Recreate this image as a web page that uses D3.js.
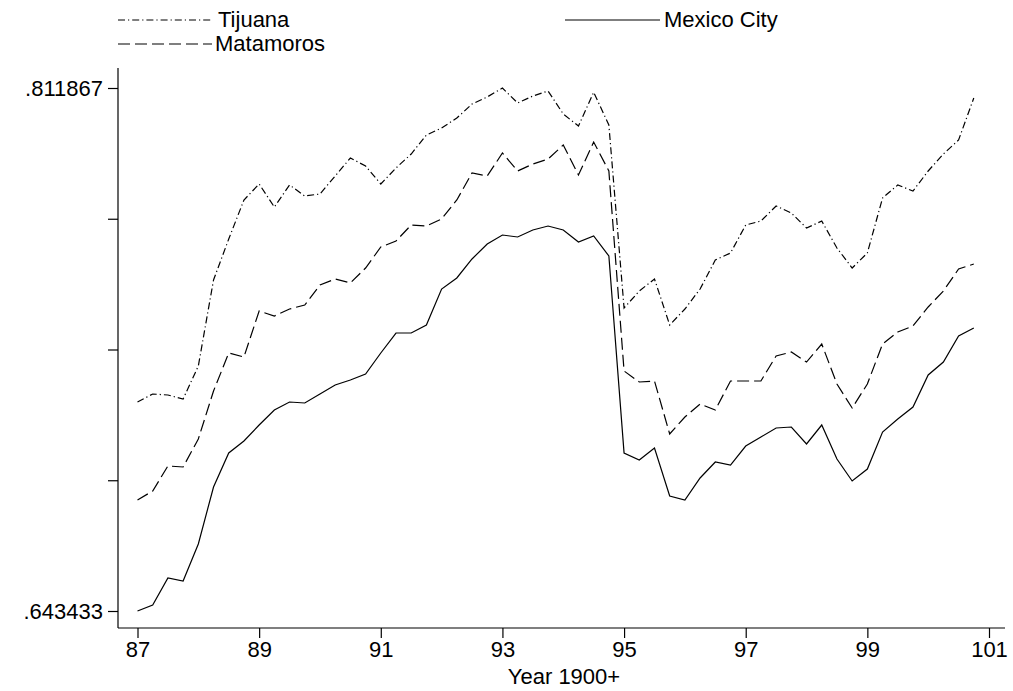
<!DOCTYPE html>
<html>
<head>
<meta charset="utf-8">
<script src="https://cdn.jsdelivr.net/npm/d3@7"></script>
<style>
  html, body { margin: 0; padding: 0; background: #fff; }
  svg { display: block; font-family: "Liberation Sans", Arial, sans-serif; }
</style>
</head>
<body>
<svg id="chart" width="1013" height="691"></svg>
<script>
// ---- data (quarterly, year 1900+) ----
const quarters = [
  87.00, 87.25, 87.50, 87.75, 88.00, 88.25, 88.50, 88.75,
  89.00, 89.25, 89.50, 89.75, 90.00, 90.25, 90.50, 90.75,
  91.00, 91.25, 91.50, 91.75, 92.00, 92.25, 92.50, 92.75,
  93.00, 93.25, 93.50, 93.75, 94.00, 94.25, 94.50, 94.75,
  95.00, 95.25, 95.50, 95.75, 96.00, 96.25, 96.50, 96.75,
  97.00, 97.25, 97.50, 97.75, 98.00, 98.25, 98.50, 98.75,
  99.00, 99.25, 99.50, 99.75, 100.00, 100.25, 100.50, 100.75
];

const tijuana = [
  0.71074, 0.71332, 0.71300, 0.71171, 0.72234, 0.75003, 0.76324, 0.77580,
  0.78095, 0.77354, 0.78063, 0.77708, 0.77773, 0.78353, 0.78932, 0.78675,
  0.78095, 0.78610, 0.79061, 0.79673, 0.79898, 0.80220, 0.80671, 0.80897,
  0.811867, 0.80703, 0.80929, 0.81090, 0.80349, 0.79963, 0.81050, 0.79995,
  0.74101, 0.74649, 0.75035, 0.73554, 0.74069, 0.74713, 0.75647, 0.75873,
  0.76774, 0.76903, 0.77386, 0.77161, 0.76678, 0.76903, 0.76034, 0.75390,
  0.75873, 0.77644, 0.78063, 0.77869, 0.78514, 0.79061, 0.79512, 0.80865
];

const matamoros = [
  0.67918, 0.68208, 0.69013, 0.68981, 0.69883, 0.71428, 0.72652, 0.72523,
  0.74005, 0.73844, 0.74069, 0.74198, 0.74842, 0.75035, 0.74907, 0.75390,
  0.76066, 0.76259, 0.76774, 0.76742, 0.76968, 0.77580, 0.78449, 0.78353,
  0.79093, 0.78514, 0.78739, 0.78900, 0.79351, 0.78385, 0.79447, 0.78514,
  0.72073, 0.71718, 0.71751, 0.70044, 0.70591, 0.71010, 0.70817, 0.71751,
  0.71751, 0.71751, 0.72556, 0.72684, 0.72362, 0.72942, 0.71654, 0.70881,
  0.71654, 0.72942, 0.73329, 0.73522, 0.74134, 0.74649, 0.75357, 0.75518
];

const mexicoCity = [
  0.643433, 0.64537, 0.65406, 0.65310, 0.66501, 0.68337, 0.69432, 0.69818,
  0.70333, 0.70817, 0.71074, 0.71042, 0.71332, 0.71622, 0.71783, 0.71976,
  0.72652, 0.73296, 0.73296, 0.73554, 0.74713, 0.75068, 0.75680, 0.76163,
  0.76452, 0.76388, 0.76613, 0.76742, 0.76613, 0.76227, 0.76420, 0.75776,
  0.69432, 0.69206, 0.69593, 0.68047, 0.67918, 0.68627, 0.69142, 0.69045,
  0.69657, 0.69947, 0.70237, 0.70269, 0.69722, 0.70333, 0.69239, 0.68530,
  0.68916, 0.70108, 0.70527, 0.70913, 0.71944, 0.72362, 0.73200, 0.73457
];

const yMin = 0.643433, yMax = 0.811867;
const yTickValues = [0.643433, 0.685542, 0.727650, 0.769759, 0.811867];
const yTickLabels = [".643433", "", "", "", ".811867"];
const xTickValues = [87, 89, 91, 93, 95, 97, 99, 101];
const xTickLabels = ["87", "89", "91", "93", "95", "97", "99", "101"];

const seriesNames = ["Tijuana", "Matamoros", "Mexico City"];
const seriesData = [tijuana, matamoros, mexicoCity];
const seriesDash = ["7,3,1.2,3", "12,5", null];

// ---- layout ----
const svg = d3.select("#chart");
const plot = { left: 118, right: 1005, top: 68, bottom: 628 };
const fs = 22;

const x = d3.scaleLinear().domain([87, 101]).range([137.5, 989]);
const y = d3.scaleLinear().domain([yMin, yMax]).range([611, 88]);

// axes lines
svg.append("line").attr("x1", plot.left).attr("x2", plot.left)
  .attr("y1", plot.top).attr("y2", plot.bottom).attr("stroke", "#000").attr("stroke-width", 1.2);
svg.append("line").attr("x1", plot.left).attr("x2", plot.right)
  .attr("y1", plot.bottom).attr("y2", plot.bottom).attr("stroke", "#000").attr("stroke-width", 1.2);

// y axis
const yAxis = d3.axisLeft(y).tickValues(yTickValues).tickSize(10).tickPadding(5)
  .tickFormat((d, i) => yTickLabels[i]);
const gy = svg.append("g").attr("transform", `translate(${plot.left},0)`).call(yAxis);
gy.select(".domain").remove();
gy.selectAll("line").attr("stroke", "#000").attr("stroke-width", 1.2);
gy.selectAll("text").attr("font-size", fs).attr("fill", "#000")
  .attr("font-family", "Liberation Sans, Arial, sans-serif");

// x axis
const xAxis = d3.axisBottom(x).tickValues(xTickValues).tickSize(10).tickPadding(3)
  .tickFormat((d, i) => xTickLabels[i]);
const gx = svg.append("g").attr("transform", `translate(0,${plot.bottom})`).call(xAxis);
gx.select(".domain").remove();
gx.selectAll("line").attr("stroke", "#000").attr("stroke-width", 1.2);
gx.selectAll("text").attr("font-size", fs).attr("fill", "#000")
  .attr("font-family", "Liberation Sans, Arial, sans-serif");

svg.append("text").attr("x", 564).attr("y", 684).attr("text-anchor", "middle")
  .attr("font-size", fs).text("Year 1900+");

// lines
const line = d3.line().x((d, i) => x(quarters[i])).y(d => y(d));
seriesData.forEach((s, k) => {
  svg.append("path").datum(s).attr("d", line)
    .attr("fill", "none").attr("stroke", "#000").attr("stroke-width", 1.2)
    .attr("stroke-dasharray", seriesDash[k]);
});

// legend
const legend = [
  { k: 0, x1: 118, x2: 212, ty: 20, tx: 218 },
  { k: 2, x1: 565, x2: 660, ty: 20, tx: 664 },
  { k: 1, x1: 118, x2: 212, ty: 44, tx: 215 }
];
legend.forEach(l => {
  svg.append("line").attr("x1", l.x1).attr("x2", l.x2).attr("y1", l.ty).attr("y2", l.ty)
    .attr("stroke", "#000").attr("stroke-width", 1.2)
    .attr("stroke-dasharray", seriesDash[l.k]);
  svg.append("text").attr("x", l.tx).attr("y", l.ty + 7).attr("font-size", fs)
    .text(seriesNames[l.k]);
});
</script>
</body>
</html>
